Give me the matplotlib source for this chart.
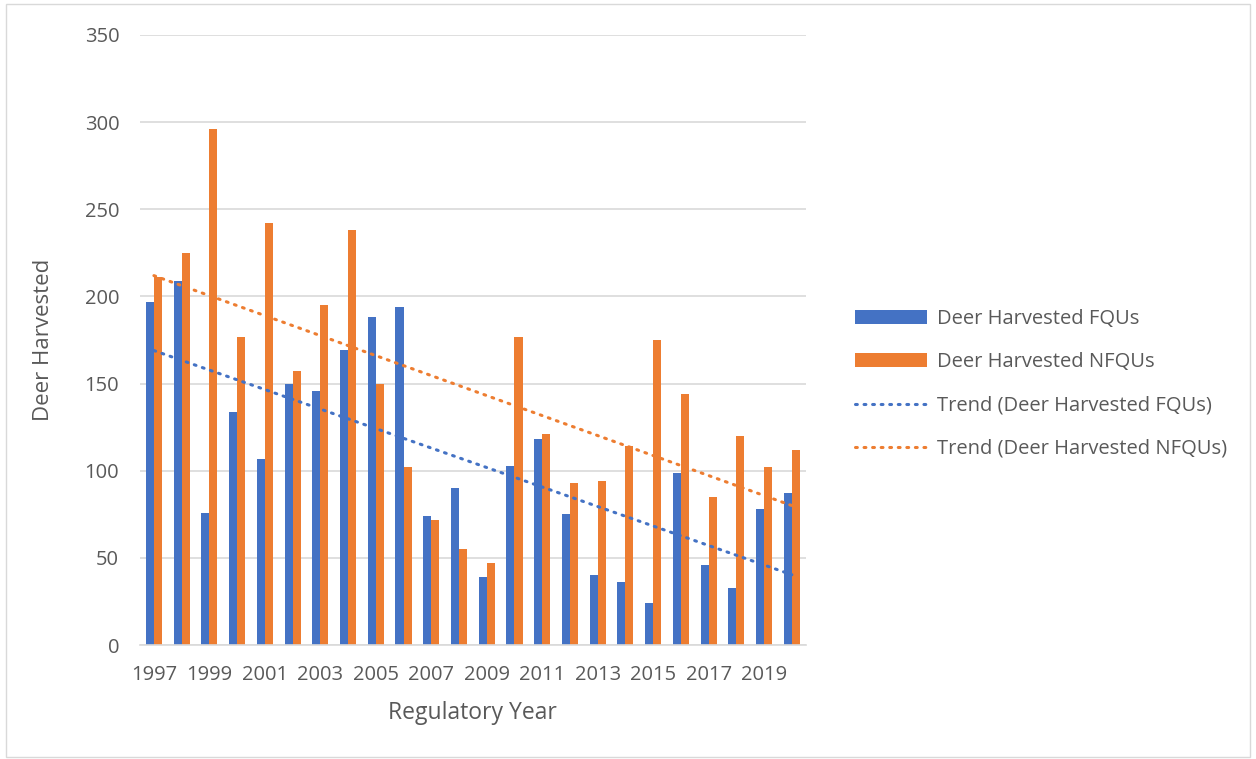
import matplotlib.pyplot as plt
import numpy as np

# values
years = list(range(1997, 2021))
fqu = [197, 209, 76, 134, 107, 150, 146, 169, 188, 194, 74, 90,
       39, 103, 118, 75, 40, 36, 24, 99, 46, 33, 78, 87]
nfqu = [211, 225, 296, 177, 242, 157, 195, 238, 150, 102, 72, 55,
        47, 177, 121, 93, 94, 114, 175, 144, 85, 120, 102, 112]
tick_years = years[::2]

BLUE = '#4472C4'
ORANGE = '#ED7D31'
TXT = '#595959'

plt.rcParams['font.family'] = ['Open Sans', 'DejaVu Sans']

fig = plt.figure(figsize=(12.56, 7.59), dpi=100)
ax = fig.add_axes([0.1115, 0.150, 0.530, 0.804])

x = np.arange(len(years))
w = 0.29
b1 = ax.bar(x - w / 2, fqu, w, color=BLUE, label='Deer Harvested FQUs', zorder=2)
b2 = ax.bar(x + w / 2, nfqu, w, color=ORANGE, label='Deer Harvested NFQUs', zorder=2)

# linear trend lines like excel
trends = []
for vals, col, name in [(fqu, BLUE, 'Trend (Deer Harvested FQUs)'),
                        (nfqu, ORANGE, 'Trend (Deer Harvested NFQUs)')]:
    k, b = np.polyfit(x, vals, 1)
    ln, = ax.plot(x, k * x + b, color=col, lw=2.2, linestyle=(0, (0.6, 2.2)),
                  dash_capstyle='round', label=name, zorder=3)
    trends.append(ln)

ax.set_xlim(-0.5, len(years) - 0.5)
ax.set_ylim(0, 350)
ax.set_yticks(range(0, 351, 50))
ax.set_xticks(x[::2])
ax.set_xticklabels([str(y) for y in tick_years])
ax.grid(axis='y', color='#d9d9d9', lw=1.2, zorder=0)
for s in ['top', 'right', 'left']:
    ax.spines[s].set_visible(False)
ax.spines['bottom'].set_color('#d9d9d9')
ax.spines['bottom'].set_linewidth(1.2)
ax.tick_params(length=0, colors=TXT, labelsize=14.5)
ax.tick_params(axis='y', pad=15)
ax.tick_params(axis='x', pad=14)

ax.set_ylabel('Deer Harvested', fontsize=16, color=TXT, labelpad=22)
ax.set_xlabel('Regulatory Year', fontsize=16.5, color=TXT, labelpad=12)

handles = [b1, b2] + trends
leg = fig.legend(handles=handles, labels=[h.get_label() for h in handles],
                 loc='center left', bbox_to_anchor=(0.666, 0.494), frameon=False,
                 fontsize=14.5, handlelength=3.6, handleheight=0.7,
                 labelspacing=1.15, handletextpad=0.5)
for t in leg.get_texts():
    t.set_color(TXT)

# thin frame round the whole picture
fig.patches.append(plt.Rectangle((0.005, 0.003), 0.99, 0.992, transform=fig.transFigure,
                                 fill=False, edgecolor='#d9d9d9', lw=1))

fig.savefig('out.png', dpi=100)
